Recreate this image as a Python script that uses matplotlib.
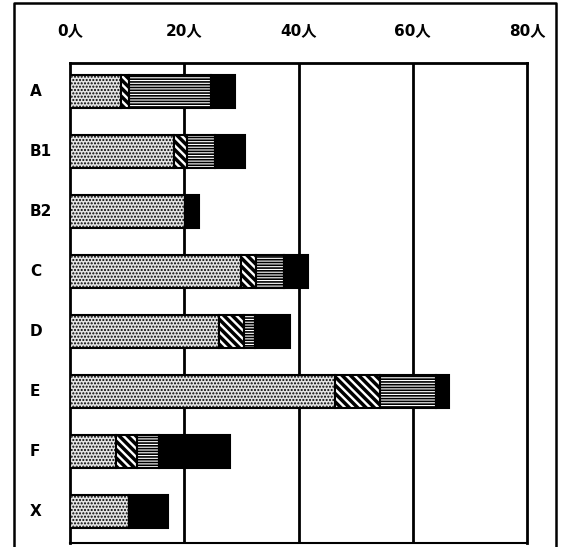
import matplotlib
matplotlib.use('Agg')
import matplotlib.pyplot as plt
from matplotlib.lines import Line2D

# data (people per group)
groups = ['A', 'B1', 'B2', 'C', 'D', 'E', 'F', 'X']
dotted = [9.0, 18.2, 20.2, 29.9, 26.1, 46.4, 8.1, 10.4]
diagonal = [1.4, 2.2, 0.0, 2.6, 4.3, 7.8, 3.6, 0.0]
horizontal = [14.2, 5.0, 0.0, 5.0, 1.9, 9.9, 3.8, 0.0]
solid = [4.2, 5.2, 2.4, 4.2, 6.2, 2.2, 12.5, 6.7]
tick_values = [0, 20, 40, 60, 80]
tick_labels = ['0人', '20人', '40人', '60人', '80人']

FONT = ['DejaVu Sans', 'Noto Sans CJK JP']
plt.rcParams['font.family'] = FONT

fig = plt.figure(figsize=(5.66, 5.47), dpi=100)
ax = fig.add_axes([70 / 566, 1 - 543 / 547, 457 / 566, 480 / 547])

ypos = list(range(len(groups)))
segments = [
    (dotted, '.....', 1.0, '#e4e4e4'),
    (diagonal, '\\\\\\\\', 2.5, 'white'),
    (horizontal, '------', 1.2, 'white'),
]
left = [0.0] * len(groups)
for vals, hatch, hlw, fc in segments:
    with plt.rc_context({'hatch.linewidth': hlw}):
        ax.barh(ypos, vals, left=left, height=0.55, color=fc,
                edgecolor='black', hatch=hatch, linewidth=1.5, zorder=3)
    left = [l + v for l, v in zip(left, vals)]
ax.barh(ypos, solid, left=left, height=0.55, color='black',
        edgecolor='black', linewidth=1.5, zorder=3)

ax.set_xlim(0, 79)
ax.set_ylim(7.525, -0.475)
for v in tick_values[1:-1]:
    ax.axvline(v, color='black', lw=2, zorder=1)
for s in ax.spines.values():
    s.set_linewidth(2)
ax.spines['bottom'].set_linewidth(1.5)

ax.set_xticks(tick_values)
ax.set_xticklabels(tick_labels, fontsize=11, fontweight='bold')
ax.tick_params(axis='x', top=True, labeltop=True, bottom=False,
               labelbottom=False, length=0, pad=18)
ax.set_yticks([])

# group names, left aligned near the outer frame
for y, g in zip(ypos, groups):
    ax.annotate(g, xy=(30, y), xycoords=('figure pixels', 'data'),
                ha='left', va='center', fontsize=11, fontweight='bold')

# outer frame (left, top, right)
fx0, fx1, fy1 = 14 / 566, 556 / 566, 1 - 3 / 547
fig.add_artist(Line2D([fx0, fx0, fx1, fx1], [0, fy1, fy1, 0],
                      transform=fig.transFigure, color='black', lw=1.8))

fig.savefig('out.png', dpi=100)
